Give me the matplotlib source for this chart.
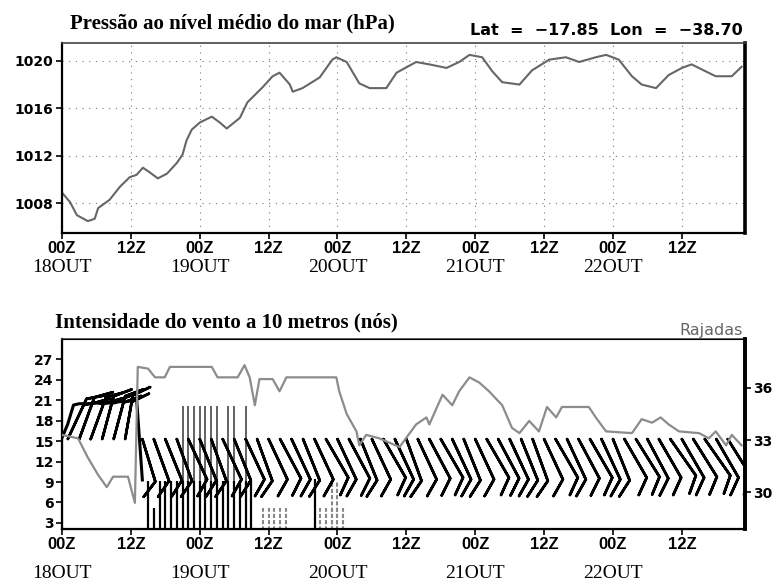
import numpy as np
import matplotlib
matplotlib.use("Agg")
import matplotlib.pyplot as plt
from matplotlib.transforms import blended_transform_factory

# ------------------------------------
# data (hours since 00Z 18OUT)
# ------------------------------------
press_hours = [0.0, 1.4, 2.6, 4.5, 5.7, 6.3, 8.3, 10.1, 11.8, 13.0, 14.1, 15.3, 16.7, 18.3,
               20.0, 21.0, 21.7, 22.6, 24.0, 26.1, 27.5, 28.7, 31.0, 32.3, 35.0, 36.7, 37.9,
               39.7, 40.2, 41.9, 44.9, 47.1, 47.8, 49.6, 51.8, 53.6, 56.5, 58.3, 61.7, 64.0,
               67.0, 69.2, 71.0, 73.2, 75.0, 76.7, 79.7, 81.9, 84.9, 87.8, 90.1, 93.0, 94.8,
               97.0, 99.3, 101.0, 103.5, 105.7, 108.0, 109.7, 112.2, 113.9, 116.7, 118.4]
press_values = [1008.9, 1008.1, 1007.0, 1006.5, 1006.7, 1007.6, 1008.3, 1009.4, 1010.2, 1010.4,
                1011.0, 1010.6, 1010.1, 1010.5, 1011.4, 1012.1, 1013.3, 1014.2, 1014.8, 1015.3,
                1014.8, 1014.3, 1015.2, 1016.5, 1017.8, 1018.7, 1019.0, 1018.0, 1017.4, 1017.7,
                1018.6, 1020.1, 1020.3, 1019.9, 1018.1, 1017.7, 1017.7, 1019.0, 1019.9, 1019.7,
                1019.4, 1019.9, 1020.5, 1020.3, 1019.1, 1018.2, 1018.0, 1019.2, 1020.1, 1020.3,
                1019.9, 1020.3, 1020.5, 1020.1, 1018.7, 1018.0, 1017.7, 1018.8, 1019.4, 1019.7,
                1019.1, 1018.7, 1018.7, 1019.5]

# gusts (right axis, knots)
gust_hours = [0.0, 2.8, 4.5, 6.3, 7.8, 8.9, 9.7, 11.5, 12.7, 13.2, 15.0, 16.2, 17.9, 18.8,
              26.1, 27.1, 30.6, 31.8, 32.7, 33.6, 34.4, 36.7, 37.9, 39.1, 47.8, 48.3, 49.6,
              51.3, 51.8, 53.0, 55.3, 58.8, 61.7, 63.5, 64.0, 66.3, 68.0, 69.2, 71.0, 72.7,
              74.4, 76.7, 78.4, 79.7, 81.4, 83.1, 84.5, 86.1, 87.1, 91.8, 93.0, 94.8, 99.3,
              101.0, 102.8, 104.3, 105.7, 107.5, 111.0, 112.7, 113.9, 115.7, 116.7, 118.4]
gust_values = [33.3, 33.1, 32.0, 31.0, 30.3, 30.9, 30.9, 30.9, 29.4, 37.2, 37.1, 36.6, 36.6, 37.2,
               37.2, 36.6, 36.6, 37.3, 36.6, 35.0, 36.5, 36.5, 35.8, 36.6, 36.6, 35.8, 34.5,
               33.5, 32.7, 33.3, 33.1, 32.6, 33.9, 34.3, 33.9, 35.6, 35.0, 35.8, 36.6, 36.3,
               35.8, 35.0, 33.7, 33.4, 34.1, 33.5, 34.9, 34.3, 34.9, 34.9, 34.3, 33.5, 33.4,
               34.2, 34.0, 34.3, 33.9, 33.5, 33.4, 33.1, 33.5, 32.7, 33.3, 32.7]

# wind intensity line (left axis, knots)
wind_hours = [0, 1, 2, 3, 4, 5, 6, 7, 8, 9, 10, 11, 12, 13, 14]
wind_speed = [15.5, 17.5, 20.3, 20.5, 20.5, 20.5, 20.6, 20.5, 20.6, 20.6, 20.8, 20.8, 20.9, 21.2, 9.3]

# wind barbs
barb_hours = [1, 3, 5, 7, 9, 11,
              14, 16, 18, 20, 22, 24, 26, 28, 30, 32,
              34, 36, 38, 40, 42, 44, 46, 48, 50, 52,
              54, 56, 58, 60, 62, 64, 66, 68, 70, 72,
              74, 76, 78, 80, 82, 84, 86, 88, 90, 92,
              94, 96, 98, 100, 102, 104, 106, 108, 110, 112,
              114, 116]
barb_dir = [25, 20, 20, 15, 15, 10,
            163, 160, 158, 160, 155, 158, 160, 155, 158, 155,
            160, 155, 152, 155, 158, 155, 150, 155, 152, 158,
            155, 150, 155, 160, 155, 152, 150, 155, 158, 155,
            150, 152, 155, 158, 160, 155, 150, 155, 152, 150,
            155, 158, 150, 148, 152, 150, 145, 150, 148, 145,
            150, 148]
barb_speed = [20, 20, 20, 20, 20, 20,
              10, 10, 10, 10, 10, 10, 10, 10, 10, 10,
              10, 10, 10, 10, 10, 10, 10, 10, 10, 10,
              10, 10, 10, 10, 10, 10, 10, 10, 10, 10,
              10, 10, 10, 10, 10, 10, 10, 10, 10, 10,
              10, 10, 10, 10, 10, 10, 10, 10, 10, 10,
              10, 10]

# vertical bars in lower panel
black_bar_hours = [15, 16, 17, 18, 19, 20, 21, 22, 23, 24, 25, 26, 27, 28, 29, 30, 31, 32, 33, 44]
black_bar_tops = [9.2, 5.2, 9.2, 9.2, 9.2, 9.2, 9.2, 9.2, 9.2, 9.2, 9.2, 9.2, 9.2, 9.2, 9.2,
                  9.2, 9.2, 9.2, 9.2, 9.4]
tall_bar_hours = [21, 22, 23, 24, 25, 26, 27, 29, 30, 32]
tall_bar_tops = [20.1, 20.1, 20.1, 20.1, 20.1, 20.1, 20.1, 20.1, 20.1, 20.1]
gray_bar_hours = [35, 36, 37, 38, 39, 45, 46, 47, 48, 49, 47, 48]
gray_bar_tops = [5.2, 5.2, 5.2, 5.2, 5.2, 5.2, 5.2, 5.2, 5.2, 5.2, 9.2, 9.2]

tick_hours = [0, 12, 24, 36, 48, 60, 72, 84, 96, 108]
tick_labels = ["00Z", "12Z", "00Z", "12Z", "00Z", "12Z", "00Z", "12Z", "00Z", "12Z"]
day_hours = [0, 24, 48, 72, 96]
day_labels = ["18OUT", "19OUT", "20OUT", "21OUT", "22OUT"]

BARB_LEVEL = 15.3

serif = "Liberation Serif"
tick_family = "Liberation Sans"

W, H = 778, 584
fig = plt.figure(figsize=(W / 100, H / 100), dpi=100)
ax1 = fig.add_axes([62 / W, 1 - 233 / H, (745 - 62) / W, (233 - 43) / H])
ax2 = fig.add_axes([62 / W, 1 - 529 / H, (745 - 62) / W, (529 - 339) / H])


def style_x(ax, day_offset):
    ax.set_xlim(0, 119)
    ax.set_xticks(tick_hours)
    ax.set_xticklabels(tick_labels, fontfamily=tick_family, fontweight="bold", fontsize=12)
    ax.tick_params(axis="x", direction="out", length=4, width=1.2, pad=2)
    trans = blended_transform_factory(ax.transData, ax.transAxes)
    for h, lab in zip(day_hours, day_labels):
        ax.annotate(lab, (h, 0), xycoords=trans, xytext=(0, -day_offset),
                    textcoords="offset points", ha="center", va="center",
                    fontfamily=serif, fontsize=14)
    for side, lw in [("left", 1.6), ("bottom", 1.6), ("right", 2.6), ("top", 1.2)]:
        ax.spines[side].set_linewidth(lw)
    ax.spines["top"].set_color("#444444")


# ------------------------------------
# top panel: pressure
# ------------------------------------
ax1.plot(press_hours, press_values, color="#666666", lw=1.5)
ax1.set_ylim(1005.5, 1021.5)
ax1.set_yticks([1008, 1012, 1016, 1020])
ax1.set_yticklabels(["1008", "1012", "1016", "1020"], fontweight="bold", fontsize=10)
ax1.tick_params(axis="y", direction="out", length=4, width=1.2, pad=2)
ax1.grid(True, color="#777777", lw=0.8, linestyle=(0, (1, 5)))
style_x(ax1, 24.5)

fig.text(70 / W, 1 - 28 / H, "Pressão ao nível médio do mar (hPa)", fontfamily=serif,
         fontweight="bold", fontsize=15, va="baseline", ha="left")
fig.text(743 / W, 1 - 35 / H, "Lat  =  −17.85  Lon  =  −38.70", fontweight="bold",
         fontsize=11.5, va="baseline", ha="right")

# ------------------------------------
# bottom panel: wind
# ------------------------------------
ax2.set_ylim(2.1, 30)
ax2.vlines(tall_bar_hours, 0, tall_bar_tops, color="#555555", lw=1.3)
ax2.vlines(black_bar_hours, 0, black_bar_tops, color="black", lw=1.6)
ax2.vlines(gray_bar_hours, 0, gray_bar_tops, color="#888888", lw=1.5, linestyle=(0, (2, 1)))
ax2.plot(wind_hours, wind_speed, color="black", lw=2.2)

d = np.deg2rad(barb_dir)
spd = np.array(barb_speed, dtype=float)
u = -spd * np.sin(d)
v = -spd * np.cos(d)
ax2.barbs(barb_hours, np.full(len(barb_hours), BARB_LEVEL), u, v, length=8,
          sizes=dict(height=0.35, width=0.5, spacing=0.15),
          color="black", linewidth=1.9, zorder=3)

ax2.set_yticks([3, 6, 9, 12, 15, 18, 21, 24, 27])
ax2.set_yticklabels([str(t) for t in [3, 6, 9, 12, 15, 18, 21, 24, 27]],
                    fontweight="bold", fontsize=10)
ax2.tick_params(axis="y", direction="out", length=4, width=1.2, pad=2)
style_x(ax2, 32)

ax3 = ax2.twinx()
ax3.plot(gust_hours, gust_values, color="#8c8c8c", lw=1.6, zorder=4)
ax3.set_ylim(27.9, 38.8)
ax3.set_yticks([30, 33, 36])
ax3.set_yticklabels(["30", "33", "36"], fontweight="bold", fontsize=10)
ax3.tick_params(axis="y", direction="out", length=4, width=1.2, pad=2)
ax3.spines["right"].set_linewidth(2.6)
ax3.set_xlim(0, 119)

fig.text(55 / W, 1 - 327 / H, "Intensidade do vento a 10 metros (nós)", fontfamily=serif,
         fontweight="bold", fontsize=15, va="baseline", ha="left")
fig.text(743 / W, 1 - 335 / H, "Rajadas", color="#666666", fontsize=11.5,
         va="baseline", ha="right")

fig.savefig("out.png", dpi=100)
